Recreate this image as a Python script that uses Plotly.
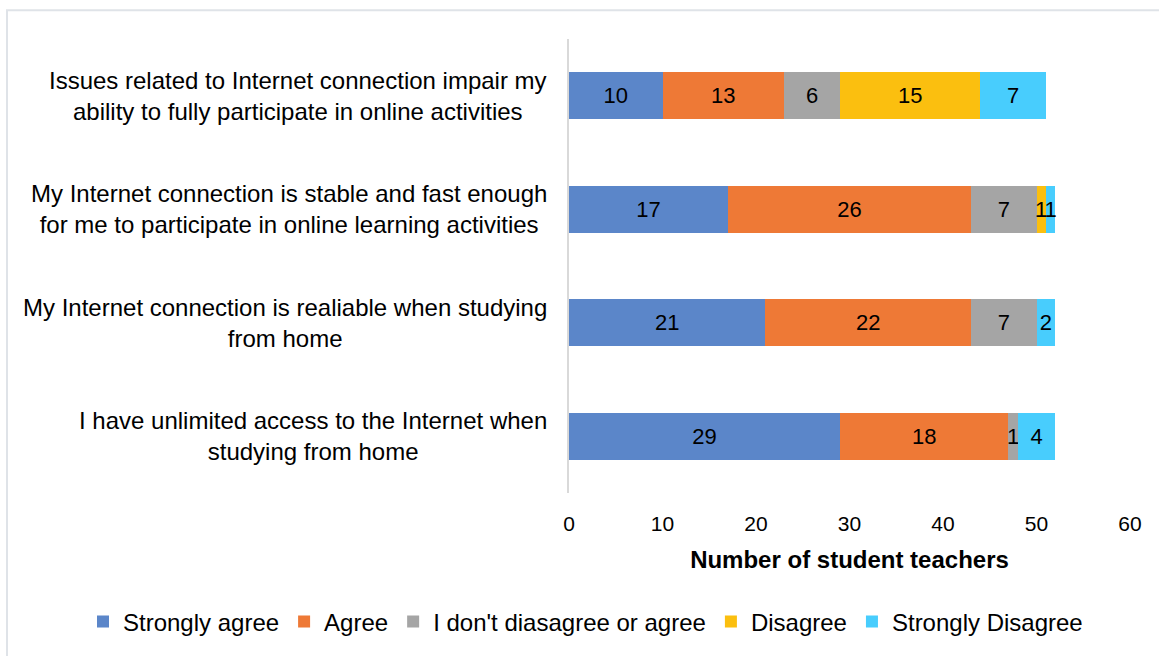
import plotly.graph_objects as go

# Survey statements, listed top to bottom
statements = [
    "Issues related to Internet connection impair my<br>ability to fully participate in online activities",
    "My Internet connection is stable and fast enough<br>for me to participate in online learning activities",
    "My Internet connection is realiable when studying<br>from home",
    "I have unlimited access to the Internet when<br>studying from home",
]

responses = ["Strongly agree", "Agree", "I don't diasagree or agree", "Disagree", "Strongly Disagree"]

strongly_agree = [10, 17, 21, 29]
agree = [13, 26, 22, 18]
neutral = [6, 7, 7, 1]
disagree = [15, 1, 0, 0]
strongly_disagree = [7, 1, 2, 4]

series = [strongly_agree, agree, neutral, disagree, strongly_disagree]
colors = ["#5b86c9", "#ee7936", "#a5a5a5", "#fbbf0f", "#48cdfd"]

x_ticks = [0, 10, 20, 30, 40, 50, 60]
x_title = "Number of student teachers"

FONT = "Liberation Sans, Arial, sans-serif"

W, H = 1159, 656
ML, MR, MT, MB = 569, 29, 39, 159
PW, PH = W - ML - MR, H - MT - MB

fig = go.Figure()
rows = list(range(len(statements)))
for name, vals, col in zip(responses, series, colors):
    fig.add_trace(go.Bar(
        y=rows,
        x=vals,
        name=name,
        orientation="h",
        marker=dict(color=col, line=dict(width=0)),
        text=[str(v) if v else "" for v in vals],
        textposition="inside",
        insidetextanchor="middle",
        textangle=0,
        constraintext="none",
        textfont=dict(family=FONT, size=22, color="#000000"),
        hoverinfo="skip",
    ))

# Category labels, centred lines, right-aligned block next to the axis
for i, s in enumerate(statements):
    fig.add_annotation(
        x=(549 - ML) / PW, xref="paper", xanchor="right",
        y=i, yref="y", yanchor="middle",
        text=s, align="center", showarrow=False,
        font=dict(family=FONT, size=24, color="#000000"),
    )

# Chart frame
fig.add_shape(
    type="rect", xref="paper", yref="paper",
    x0=(7 - ML) / PW, x1=(W + 20 - ML) / PW,
    y0=(MT + PH - (H + 20)) / PH, y1=(MT + PH - 10) / PH,
    line=dict(color="#dfe3e8", width=2), fillcolor="rgba(0,0,0,0)", layer="below",
)

fig.update_layout(
    width=W, height=H,
    margin=dict(l=ML, r=MR, t=MT, b=MB),
    paper_bgcolor="#ffffff", plot_bgcolor="#ffffff",
    barmode="stack", bargap=0.585,
    font=dict(family=FONT, color="#000000"),
    showlegend=True,
    legend=dict(
        orientation="h",
        x=(83 - ML) / PW, xanchor="left",
        y=(MT + PH - 627) / PH, yanchor="middle",
        font=dict(family=FONT, size=24, color="#000000"),
        itemwidth=30, traceorder="normal",
        bgcolor="rgba(0,0,0,0)",
    ),
    xaxis=dict(
        range=[0, 60], tickvals=x_ticks, ticktext=[str(t) for t in x_ticks],
        showgrid=False, zeroline=False, showline=False, ticks="",
        tickfont=dict(family=FONT, size=21, color="#000000"),
        ticklabelstandoff=16,
        title=dict(text="<b>" + x_title + "</b>", font=dict(family=FONT, size=24, color="#000000"), standoff=17),
        fixedrange=True,
    ),
    yaxis=dict(
        range=[len(statements) - 0.5, -0.5],
        showticklabels=False, showgrid=False, zeroline=False,
        showline=True, linecolor="#d9d9d9", linewidth=2, ticks="",
        fixedrange=True,
    ),
)

fig.write_html("out.html")
